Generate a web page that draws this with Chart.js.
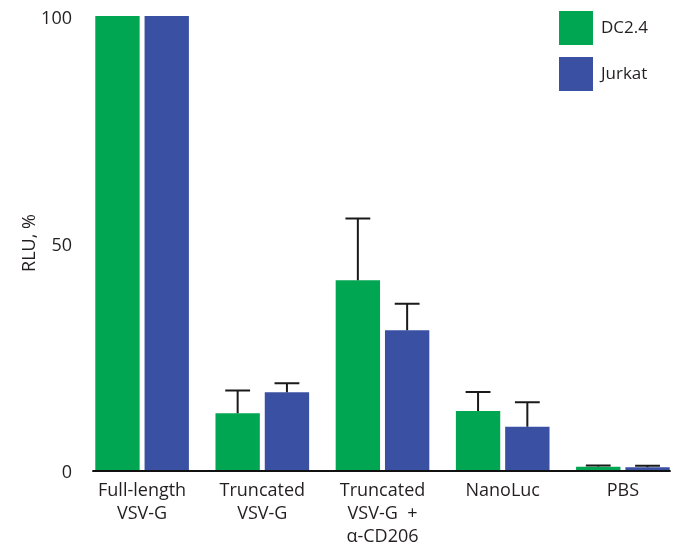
<!DOCTYPE html>
<html>
<head>
<meta charset="utf-8">
<title>RLU</title>
<script src="https://cdn.jsdelivr.net/npm/chart.js@4.4.0/dist/chart.umd.min.js"></script>
<style>
  html, body { margin: 0; padding: 0; background: #fff; }
  #wrap { width: 696px; height: 559px; }
</style>
</head>
<body>
<div id="wrap"><canvas id="grafico"></canvas></div>
<script>
// data
var categorias = [['Full-length', 'VSV-G'], ['Truncated', 'VSV-G'], ['Truncated', 'VSV-G  +', 'α-CD206'], ['NanoLuc'], ['PBS']];
var dc24 = [100, 12.5, 41.8, 13.0, 0.7];
var dc24Err = [0, 5.0, 13.6, 4.2, 0.3];
var jurkat = [100, 17.1, 30.8, 9.5, 0.6];
var jurkatErr = [0, 2.0, 5.8, 5.4, 0.35];
var yTicks = [0, 50, 100];

var fuente = '"Open Sans", Lato, sans-serif';
var colorTexto = '#231f20';

// error bars + baseline
var barrasError = {
  id: 'barrasError',
  afterDatasetsDraw: function (chart) {
    var ctx = chart.ctx;
    var y = chart.scales.y;
    ctx.save();
    ctx.strokeStyle = '#1a1a1a';
    ctx.lineWidth = 2;
    chart.data.datasets.forEach(function (ds, i) {
      var meta = chart.getDatasetMeta(i);
      meta.data.forEach(function (bar, j) {
        var err = ds.errores[j];
        if (!err) return;
        var top = y.getPixelForValue(ds.data[j] + err);
        var cap = bar.width * 0.28;
        ctx.beginPath();
        ctx.moveTo(bar.x, bar.y);
        ctx.lineTo(bar.x, top);
        ctx.moveTo(bar.x - cap, top);
        ctx.lineTo(bar.x + cap, top);
        ctx.stroke();
      });
    });
    // baseline under the bars
    var primero = chart.getDatasetMeta(0).data[0];
    var ultimos = chart.getDatasetMeta(chart.data.datasets.length - 1).data;
    var ultimo = ultimos[ultimos.length - 1];
    var y0 = y.getPixelForValue(0);
    ctx.strokeStyle = '#111';
    ctx.beginPath();
    ctx.moveTo(primero.x - primero.width / 2 - 3, y0 + 1);
    ctx.lineTo(ultimo.x + ultimo.width / 2 + 1, y0 + 1);
    ctx.stroke();
    ctx.restore();
  }
};

// legend drawn as two stacked squares
var leyenda = {
  id: 'leyenda',
  afterDraw: function (chart) {
    var ctx = chart.ctx;
    ctx.save();
    ctx.font = '17px ' + fuente;
    ctx.textBaseline = 'middle';
    chart.data.datasets.forEach(function (ds, i) {
      var x = 559, yy = 11 + i * 46;
      ctx.fillStyle = ds.backgroundColor;
      ctx.fillRect(x, yy, 34, 34);
      ctx.fillStyle = colorTexto;
      ctx.fillText(ds.label, x + 42, yy + 17);
    });
    ctx.restore();
  }
};

var chartdata = {
  labels: categorias,
  datasets: [
    {
      label: 'DC2.4',
      backgroundColor: '#00a651',
      data: dc24,
      errores: dc24Err,
      categoryPercentage: 0.82,
      barPercentage: 0.9
    },
    {
      label: 'Jurkat',
      backgroundColor: '#3a50a2',
      data: jurkat,
      errores: jurkatErr,
      categoryPercentage: 0.82,
      barPercentage: 0.9
    }
  ]
};

new Chart(document.getElementById('grafico'), {
  type: 'bar',
  data: chartdata,
  plugins: [barrasError, leyenda],
  options: {
    responsive: true,
    maintainAspectRatio: false,
    animation: false,
    layout: { padding: { left: 0, right: 13, top: 16, bottom: 0 } },
    plugins: {
      legend: { display: false },
      tooltip: { enabled: false }
    },
    scales: {
      x: {
        grid: { display: false, drawTicks: false },
        border: { display: false },
        ticks: {
          color: colorTexto,
          font: { family: fuente, size: 18, lineHeight: 1.28 },
          padding: 9,
          maxRotation: 0,
          autoSkip: false
        },
        afterFit: function (scale) { scale.height = 89; }
      },
      y: {
        min: 0,
        max: 100,
        afterBuildTicks: function (scale) {
          scale.ticks = yTicks.map(function (v) { return { value: v }; });
        },
        grid: { display: false, drawTicks: false },
        border: { display: false },
        ticks: {
          color: colorTexto,
          font: { family: fuente, size: 18 },
          padding: 10,
          labelOffset: 3
        },
        title: {
          display: true,
          text: 'RLU, %',
          color: colorTexto,
          font: { family: fuente, size: 18 },
          padding: { top: 19, bottom: 0 }
        },
        afterFit: function (scale) {
          scale.width = 82;
          scale.paddingTop = 0;
          scale.paddingBottom = 0;
        }
      }
    }
  }
});
</script>
</body>
</html>
